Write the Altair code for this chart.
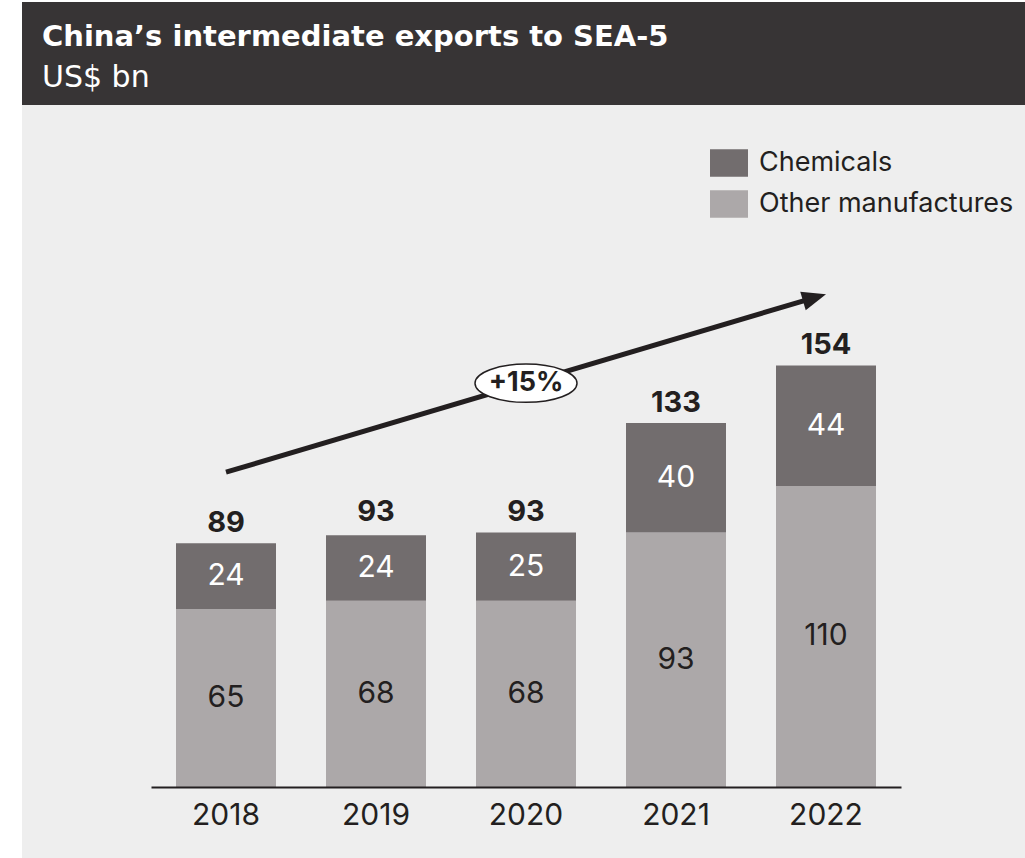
import altair as alt
import pandas as pd

FONT = "Inter"
HFONT = "DejaVu Sans"
DARK = "#231f20"

# ---- data ----
years = ["2018", "2019", "2020", "2021", "2022"]
chemicals = [24, 24, 25, 40, 44]
other_manufactures = [65, 68, 68, 93, 110]
totals = [89, 93, 93, 133, 154]
series = ["Chemicals", "Other manufactures"]
series_colors = ["#726d6e", "#aca8a9"]

# growth arrow annotation (data units)
arrow_from_year, arrow_to_year = "2018", "2022"
arrow_from_value, arrow_to_value = 115, 180
cagr_text = "+15%"
cagr_year = "2020"
cagr_value = 147.5

title_text = "China\u2019s intermediate exports to SEA-5"
subtitle_text = "US$ bn"

# ---- tables ----
rows = []
for y, c, o in zip(years, chemicals, other_manufactures):
    rows.append({"year": y, "series": "Other manufactures", "value": o, "order": 0})
    rows.append({"year": y, "series": "Chemicals", "value": c, "order": 1})
df = pd.DataFrame(rows)
tot_df = pd.DataFrame({"year": years, "total": totals})
arrow_df = pd.DataFrame({"year": [arrow_from_year], "year2": [arrow_to_year],
                         "v": [arrow_from_value], "v2": [arrow_to_value]})
head_df = pd.DataFrame({"year": [arrow_to_year], "v": [arrow_to_value]})
cagr_df = pd.DataFrame({"year": [cagr_year], "v": [cagr_value], "label": [cagr_text]})

# ---- layout ----
W, H = 750, 438
PL, PT = 151, 349
TOTAL_W, TOTAL_H = 1025, 858

xenc = alt.X("year:N",
             scale=alt.Scale(domain=years, paddingInner=1/3, paddingOuter=1/6),
             axis=alt.Axis(title=None, labelAngle=0, ticks=False, grid=False,
                           domainColor=DARK, domainWidth=2, zindex=1,
                           labelFont=FONT, labelFontSize=30, labelColor=DARK,
                           labelPadding=13))
yscale = alt.Scale(domain=[0, 160], nice=False, zero=True)

one = alt.Data(values=[{}])

bg = alt.Chart(one).mark_rect(color="#eeeeee").encode(
    x=alt.value(22 - PL), x2=alt.value(TOTAL_W - PL),
    y=alt.value(105 - PT), y2=alt.value(TOTAL_H - PT))
header = alt.Chart(one).mark_rect(color="#373435").encode(
    x=alt.value(22 - PL), x2=alt.value(TOTAL_W - PL),
    y=alt.value(2 - PT), y2=alt.value(105 - PT))
title = alt.Chart(one).mark_text(text=title_text, font=HFONT, fontSize=29, fontWeight="bold",
                                 color="white", align="left", baseline="alphabetic").encode(
    x=alt.value(42 - PL), y=alt.value(46 - PT))
subtitle = alt.Chart(one).mark_text(text=subtitle_text, font=HFONT, fontSize=30,
                                    color="white", align="left", baseline="alphabetic").encode(
    x=alt.value(42 - PL), y=alt.value(87 - PT))

stacked = alt.Chart(df).transform_stack(
    stack="value", as_=["v0", "v1"], groupby=["year"],
    sort=[alt.SortField("order", order="ascending")]
).transform_calculate(mid="(datum.v0 + datum.v1) / 2")

bars = stacked.mark_bar().encode(
    x=xenc,
    y=alt.Y("v0:Q", scale=yscale, axis=None),
    y2="v1:Q",
    color=alt.Color("series:N", scale=alt.Scale(domain=series, range=series_colors),
                    legend=alt.Legend(title=None, orient="none", legendX=559, legendY=-205,
                                      symbolType="M-1,-0.72L1,-0.72L1,0.72L-1,0.72Z",
                                      symbolSize=1444, symbolStrokeWidth=0,
                                      symbolOpacity=1, labelLimit=400,
                                      labelFont=FONT, labelFontSize=27, labelColor=DARK,
                                      labelOffset=11, rowPadding=8, padding=0)),
)

seg_labels = stacked.mark_text(font=FONT, fontSize=30, baseline="middle").encode(
    x=xenc,
    y=alt.Y("mid:Q", scale=yscale, axis=None),
    text="value:Q",
    color=alt.condition(alt.datum.series == "Chemicals", alt.value("#ffffff"), alt.value(DARK)),
)

tot_labels = alt.Chart(tot_df).mark_text(font=FONT, fontSize=29, fontWeight="bold",
                                         color=DARK, baseline="alphabetic", dy=-11).encode(
    x=xenc,
    y=alt.Y("total:Q", scale=yscale, axis=None),
    text="total:Q",
)

arrow_line = alt.Chart(arrow_df).mark_rule(strokeWidth=5, color=DARK,
                                           x2Offset=-11.5, y2Offset=3.4).encode(
    x=xenc, x2="year2:N",
    y=alt.Y("v:Q", scale=yscale, axis=None), y2="v2:Q")

arrow_head = alt.Chart(head_df).mark_point(
    shape="M0,0L-2,-0.8L-2,0.8Z", filled=True, size=576, angle=343.5,
    color=DARK, opacity=1).encode(
    x=xenc, y=alt.Y("v:Q", scale=yscale, axis=None))

ellipse_path = ("M-1,0C-1,-0.207,-0.552,-0.375,0,-0.375C0.552,-0.375,1,-0.207,1,0"
                "C1,0.207,0.552,0.375,0,0.375C-0.552,0.375,-1,0.207,-1,0Z")
ellipse = alt.Chart(cagr_df).mark_point(
    shape=ellipse_path, filled=True, fill="white", stroke=DARK, strokeWidth=1.5,
    size=10404, opacity=1, fillOpacity=1).encode(
    x=xenc, y=alt.Y("v:Q", scale=yscale, axis=None))
cagr = alt.Chart(cagr_df).mark_text(font=FONT, fontSize=27, fontWeight="bold",
                                    color=DARK, baseline="middle").encode(
    x=xenc, y=alt.Y("v:Q", scale=yscale, axis=None), text="label:N")

chart = alt.layer(
    bg, header, title, subtitle, bars, seg_labels, tot_labels,
    arrow_line, arrow_head, ellipse, cagr
).properties(
    width=W, height=H,
    autosize=alt.AutoSizeParams(type="none"),
    padding={"left": PL, "top": PT, "right": TOTAL_W - PL - W, "bottom": TOTAL_H - PT - H},
    background="white",
).configure_view(stroke=None)

chart.save("out.html", embed_options={"renderer": "svg", "actions": False})
